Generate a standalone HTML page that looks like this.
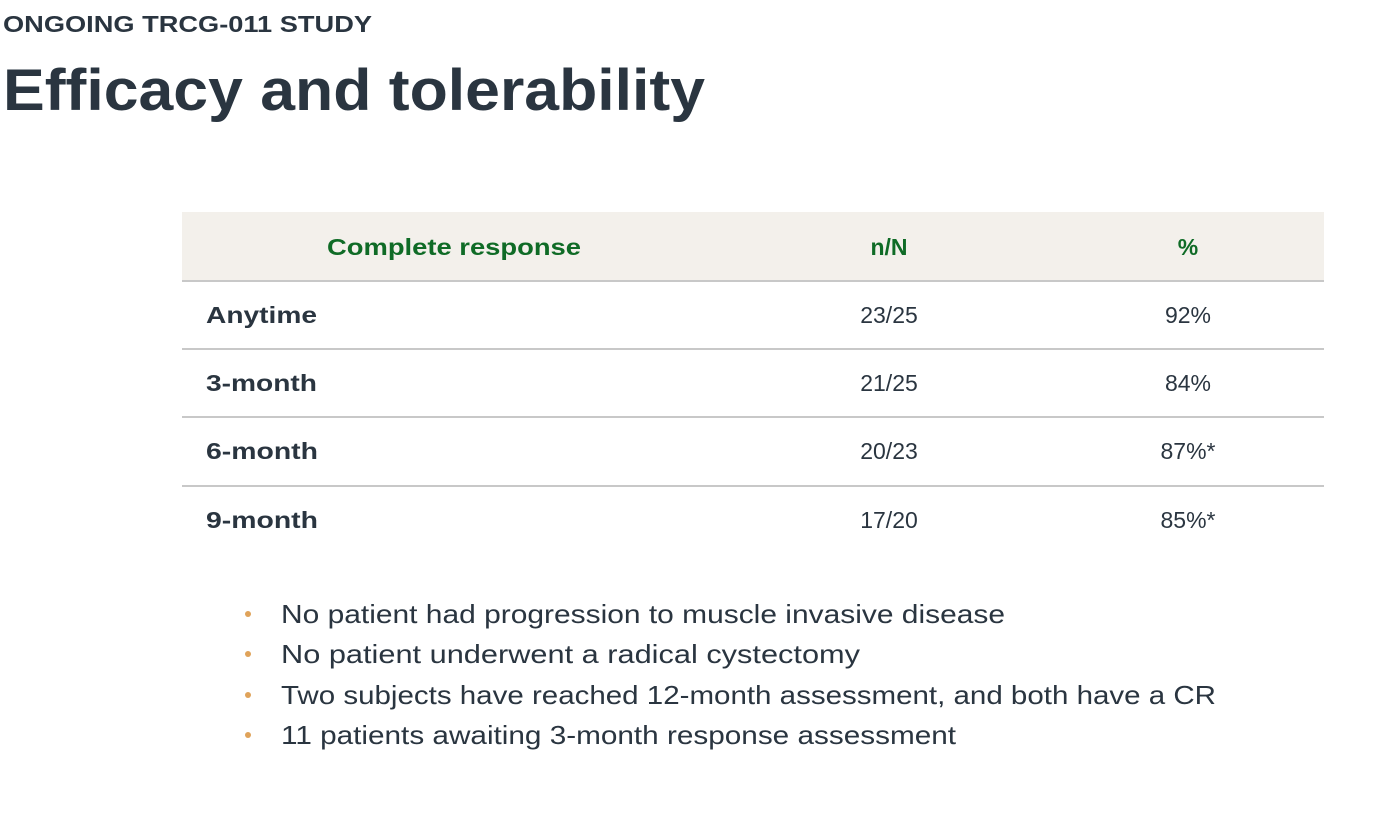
<!DOCTYPE html>
<html><head><meta charset="utf-8"><style>
html,body{margin:0;padding:0;background:#fff;width:1388px;height:816px;overflow:hidden}
svg{display:block}
text{font-family:"Liberation Sans",sans-serif}
</style></head><body>
<svg width="1388" height="816" viewBox="0 0 1388 816">
<text x="3" y="32" font-size="23" font-weight="bold" fill="#2a3540" textLength="369" lengthAdjust="spacingAndGlyphs">ONGOING TRCG-011 STUDY</text>
<text x="3" y="110" font-size="58" font-weight="bold" fill="#2a3540" textLength="702" lengthAdjust="spacingAndGlyphs">Efficacy and tolerability</text>
<rect x="182" y="212" width="1142" height="68" fill="#f3f0eb"/>
<g stroke="#c8c8c8" stroke-width="2">
<line x1="182" y1="281" x2="1324" y2="281"/>
<line x1="182" y1="349" x2="1324" y2="349"/>
<line x1="182" y1="417" x2="1324" y2="417"/>
<line x1="182" y1="486" x2="1324" y2="486"/>
</g>
<g font-size="23" font-weight="bold" fill="#0f6b26">
<text x="327" y="255" textLength="254" lengthAdjust="spacingAndGlyphs">Complete response</text>
<text x="889" y="255" text-anchor="middle">n/N</text>
<text x="1188" y="255" text-anchor="middle">%</text>
</g>
<g font-size="23" font-weight="bold" fill="#2a3540">
<text x="206" y="323" textLength="111" lengthAdjust="spacingAndGlyphs">Anytime</text>
<text x="206" y="391" textLength="111" lengthAdjust="spacingAndGlyphs">3-month</text>
<text x="206" y="459" textLength="112" lengthAdjust="spacingAndGlyphs">6-month</text>
<text x="206" y="528" textLength="112" lengthAdjust="spacingAndGlyphs">9-month</text>
</g>
<g font-size="23" fill="#2a3540" text-anchor="middle">
<text x="889" y="323">23/25</text>
<text x="889" y="391">21/25</text>
<text x="889" y="459">20/23</text>
<text x="889" y="528">17/20</text>
<text x="1188" y="323">92%</text>
<text x="1188" y="391">84%</text>
<text x="1188" y="459">87%*</text>
<text x="1188" y="528">85%*</text>
</g>
<g fill="#e0a35a">
<circle cx="248" cy="614" r="3"/>
<circle cx="248" cy="654" r="3"/>
<circle cx="248" cy="695" r="3"/>
<circle cx="248" cy="735" r="3"/>
</g>
<g font-size="26" fill="#2a3540">
<text x="281" y="623" textLength="724" lengthAdjust="spacingAndGlyphs">No patient had progression to muscle invasive disease</text>
<text x="281" y="663" textLength="579" lengthAdjust="spacingAndGlyphs">No patient underwent a radical cystectomy</text>
<text x="281" y="704" textLength="935" lengthAdjust="spacingAndGlyphs">Two subjects have reached 12-month assessment, and both have a CR</text>
<text x="281" y="744" textLength="675" lengthAdjust="spacingAndGlyphs">11 patients awaiting 3-month response assessment</text>
</g>
</svg>
</body></html>
